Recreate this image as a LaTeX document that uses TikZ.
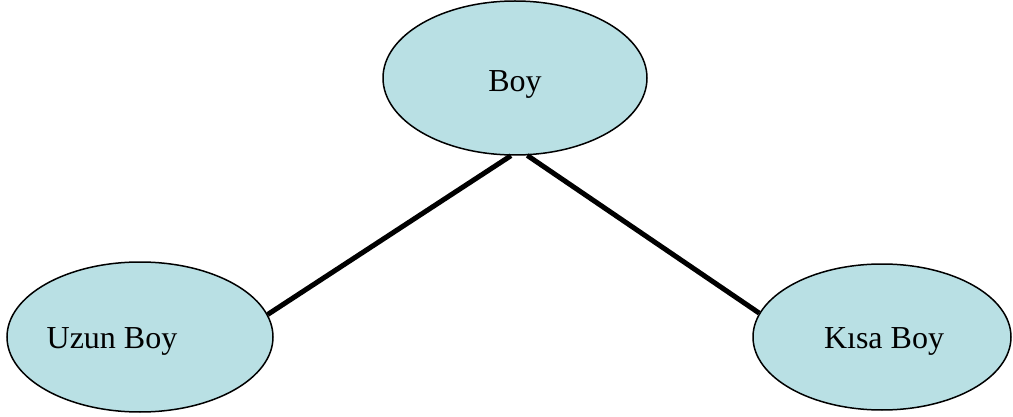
\documentclass[tikz,border=0pt]{standalone}
\usepackage{fontspec}
\setmainfont{Liberation Serif}
\usetikzlibrary{shapes.geometric}
\definecolor{ovalfill}{RGB}{185,224,228}
\tikzset{
  oval/.style={ellipse, draw=black, line width=1.5pt, fill=ovalfill, inner sep=0pt},
  lbl/.style={anchor=base, inner sep=0pt, font=\fontsize{32}{38}\selectfont},
  link/.style={line width=5pt, black}
}
\begin{document}
\begin{tikzpicture}[x=1pt,y=-1pt]
\useasboundingbox (0,0) rectangle (1013,417);
\node[oval, minimum width=264pt, minimum height=154pt] (boy) at (515,78) {};
\node[oval, minimum width=266pt, minimum height=150pt] (uzun) at (140,337) {};
\node[oval, minimum width=258pt, minimum height=146pt] (kisa) at (882,337) {};
\node[lbl] (tboy) at (515,92) {Boy};
\node[lbl] (tuzun) at (112,348) {Uzun Boy};
\node[lbl] (tkisa) at (884,348) {Kısa Boy};
\draw[link] (boy.-93.7) -- (uzun.10.6);
\draw[link] (boy.-81) -- (kisa.169);
\end{tikzpicture}
\end{document}
